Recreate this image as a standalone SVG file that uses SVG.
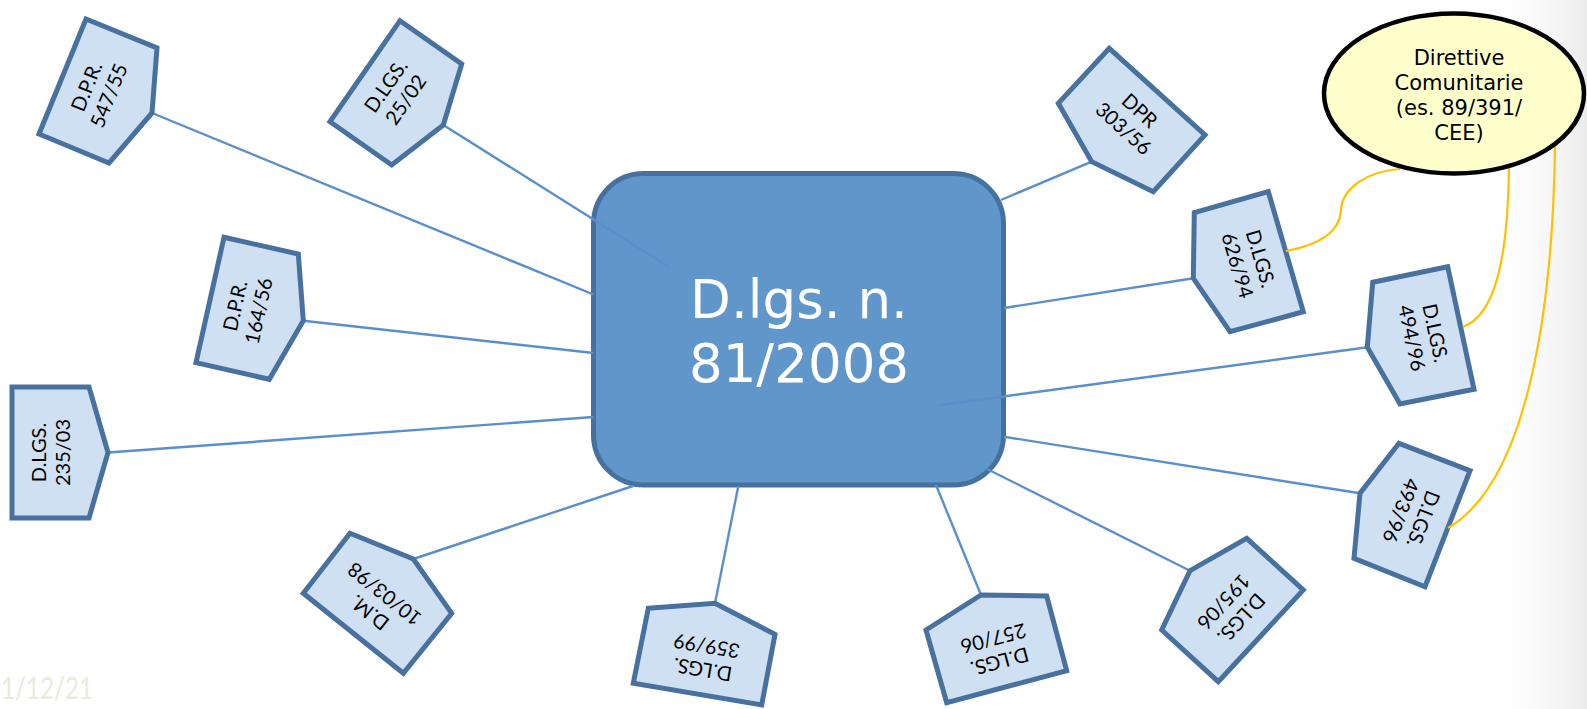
<svg xmlns="http://www.w3.org/2000/svg" width="1587" height="709" viewBox="0 0 1587 709">
  <defs>
    <linearGradient id="edgeShade" x1="1480" y1="0" x2="1587" y2="0" gradientUnits="userSpaceOnUse">
      <stop offset="0" stop-color="#ffffff" stop-opacity="0"/>
      <stop offset="1" stop-color="#ebebeb" stop-opacity="1"/>
    </linearGradient>
  </defs>
  <style>
    .pent { fill: #cfe0f3; stroke: #48719f; stroke-width: 5; stroke-linejoin: miter; }
    .lbl { font-family: Lato, "Liberation Sans", sans-serif; font-size: 20px; fill: #000000; text-anchor: middle; }
    .link { fill: none; stroke: #5a8fcb; stroke-width: 2.4; }
    .eu { fill: none; stroke: #ffc000; stroke-width: 2.2; }
    .main { fill: #6096c9; stroke: #46719f; stroke-width: 5; }
    .mainTxt { font-family: "DejaVu Sans", Verdana, sans-serif; font-size: 53px; fill: #ffffff; text-anchor: middle; }
    .ellTxt { font-family: "DejaVu Sans", Verdana, sans-serif; font-size: 21px; fill: #000000; text-anchor: middle; }
  </style>

  <!-- page background with a soft shade on the right edge -->
  <rect x="0" y="0" width="1587" height="709" fill="#ffffff"/>
  <rect x="1480" y="0" width="107" height="709" fill="url(#edgeShade)"/>

  <!-- date footer -->
  <text x="1" y="699" font-family="Lato, 'Liberation Sans', sans-serif" font-size="30" fill="#ece9dc" textLength="92" lengthAdjust="spacingAndGlyphs">1/12/21</text>

  <!-- central decree -->
  <g id="dlgs-81-2008">
    <rect class="main" x="593.5" y="173.5" width="410" height="311.5" rx="50" ry="50"/>
    <text class="mainTxt" x="799" y="318">D.lgs. n.</text>
    <text class="mainTxt" x="799" y="382">81/2008</text>
  </g>

  <!-- links from the central decree to the earlier norms -->
  <g id="connectors">
    <line class="link" x1="152" y1="113" x2="593.5" y2="294.5"/>
    <line class="link" x1="443.3" y1="125" x2="669" y2="267"/>
    <line class="link" x1="303.3" y1="320.7" x2="593.5" y2="353"/>
    <line class="link" x1="108" y1="452.5" x2="593.5" y2="417"/>
    <line class="link" x1="413.3" y1="559" x2="633" y2="486"/>
    <line class="link" x1="715" y1="603.3" x2="738.3" y2="486"/>
    <line class="link" x1="981" y1="595" x2="936" y2="485"/>
    <line class="link" x1="1190" y1="570.7" x2="987" y2="469"/>
    <line class="link" x1="1360" y1="493.3" x2="1004" y2="436.7"/>
    <line class="link" x1="1367.3" y1="347.3" x2="940" y2="405"/>
    <line class="link" x1="1193.3" y1="278.3" x2="1004" y2="308"/>
    <line class="link" x1="1091.7" y1="161.7" x2="1001" y2="200"/>
  </g>

  <g id="dpr-547-55">
    <polygon class="pent" points="86,19 157,48 152,113 109,163 39,134"/>
    <g transform="translate(97.75,91) rotate(-67.8)">
      <text class="lbl" x="0" y="-5">D.P.R.</text>
      <text class="lbl" x="0" y="19">547/55</text>
    </g>
  </g>

  <g id="dlgs-25-02">
    <polygon class="pent" points="400,20.7 461.7,64 443.3,125 391.7,165 330,121.7"/>
    <g transform="translate(395.85,92.85) rotate(-55.3)">
      <text class="lbl" x="0" y="-5">D.LGS.</text>
      <text class="lbl" x="0" y="19">25/02</text>
    </g>
  </g>

  <g id="dpr-164-56">
    <polygon class="pent" points="224,237.3 298.3,254 303.3,320.7 269.3,379.3 196,362.7"/>
    <g transform="translate(246.9,308.3) rotate(-77.4)">
      <text class="lbl" x="0" y="-5">D.P.R.</text>
      <text class="lbl" x="0" y="19">164/56</text>
    </g>
  </g>

  <g id="dlgs-235-03">
    <polygon class="pent" points="12,387 89,387 108,452.5 89,518 12,518"/>
    <g transform="translate(50.5,452.5) rotate(-90)">
      <text class="lbl" x="0" y="-5">D.LGS.</text>
      <text class="lbl" x="0" y="19">235/03</text>
    </g>
  </g>

  <g id="dm-10-03-98">
    <polygon class="pent" points="350,533.3 413.3,559 451.7,613.3 403.3,673.3 303.3,593.3"/>
    <g transform="translate(377.1,603.3) rotate(-141.3)">
      <text class="lbl" x="0" y="-5">D.M.</text>
      <text class="lbl" x="0" y="19">10/03/98</text>
    </g>
  </g>

  <g id="dlgs-359-99">
    <polygon class="pent" points="648.3,608.3 715,603.3 775,634.3 761.7,705 633.3,683.3"/>
    <g transform="translate(704.6,657.7) rotate(-170.4)">
      <text class="lbl" x="0" y="-5">D.LGS.</text>
      <text class="lbl" x="0" y="19">359/99</text>
    </g>
  </g>

  <g id="dlgs-257-06">
    <polygon class="pent" points="981,595 1046.7,596 1066.7,670.7 946.7,702.7 926,630"/>
    <g transform="translate(996.5,649.9) rotate(165.1)">
      <text class="lbl" x="0" y="-5">D.LGS.</text>
      <text class="lbl" x="0" y="19">257/06</text>
    </g>
  </g>

  <g id="dlgs-195-06">
    <polygon class="pent" points="1246.7,538.3 1303.3,590 1218.3,681.7 1161.7,630 1190,570.7"/>
    <g transform="translate(1232.5,610) rotate(132.8)">
      <text class="lbl" x="0" y="-5">D.LGS.</text>
      <text class="lbl" x="0" y="19">195/06</text>
    </g>
  </g>

  <g id="dlgs-493-96">
    <polygon class="pent" points="1399,443.3 1470,470.7 1425,586.7 1354,558.3 1360,493.3"/>
    <g transform="translate(1412,514.75) rotate(111.2)">
      <text class="lbl" x="0" y="-5">D.LGS.</text>
      <text class="lbl" x="0" y="19">493/96</text>
    </g>
  </g>

  <g id="dlgs-494-96">
    <polygon class="pent" points="1372.7,282.3 1447.7,266.7 1474,389.3 1400,404 1367.3,347.3"/>
    <g transform="translate(1423.6,335.6) rotate(77.9)">
      <text class="lbl" x="0" y="-5">D.LGS.</text>
      <text class="lbl" x="0" y="19">494/96</text>
    </g>
  </g>

  <g id="dlgs-626-94">
    <polygon class="pent" points="1194.3,212.7 1268.3,191.7 1303.3,311.7 1230,331.7 1193.3,278.3"/>
    <g transform="translate(1249,262) rotate(73.7)">
      <text class="lbl" x="0" y="-5">D.LGS.</text>
      <text class="lbl" x="0" y="19">626/94</text>
    </g>
  </g>

  <g id="dpr-303-56">
    <polygon class="pent" points="1109.3,48.3 1205,135 1153.3,191.7 1091.7,161.7 1058.3,103.3"/>
    <g transform="translate(1131.5,119.6) rotate(42.2)">
      <text class="lbl" x="0" y="-5">DPR</text>
      <text class="lbl" x="0" y="19">303/56</text>
    </g>
  </g>

  <!-- links from the EU directives to the decrees that transposed them -->
  <g id="eu-connectors">
    <path class="eu" d="M1286,251 C1318,245 1340,232 1341,210 C1342,188 1368,171 1400,169"/>
    <path class="eu" d="M1509,165 C1508,260 1495,315 1463,327"/>
    <path class="eu" d="M1555,146 C1553,300 1530,480 1448,528"/>
  </g>

  <g id="direttive-comunitarie">
    <ellipse cx="1454" cy="93.5" rx="130" ry="80" fill="#ffffcc" stroke="#000000" stroke-width="4.5"/>
    <text class="ellTxt" x="1459" y="64.5">Direttive</text>
    <text class="ellTxt" x="1459" y="89.5">Comunitarie</text>
    <text class="ellTxt" x="1459" y="115">(es. 89/391/</text>
    <text class="ellTxt" x="1459" y="140">CEE)</text>
  </g>
</svg>
